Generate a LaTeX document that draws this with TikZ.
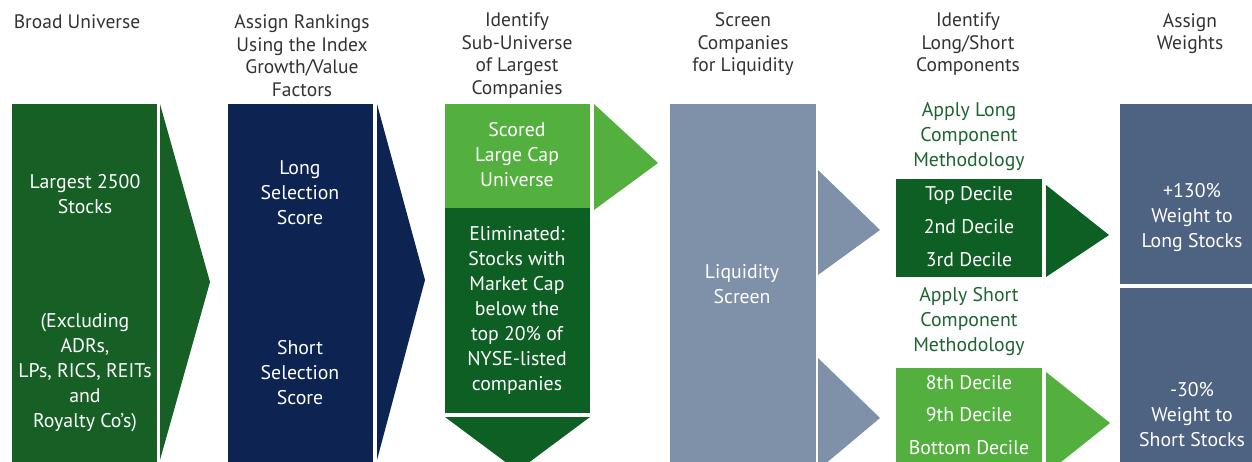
\documentclass[tikz,border=0pt]{standalone}
\usepackage{fontspec}
\setmainfont{PT Sans}
\definecolor{dkgreen}{HTML}{166026}
\definecolor{navy}{HTML}{0D2452}
\definecolor{ltgreen}{HTML}{54B03E}
\definecolor{dkgreenb}{HTML}{0E5F23}
\definecolor{slate}{HTML}{7F91A8}
\definecolor{slatedk}{HTML}{4E6282}
\definecolor{txtgreen}{HTML}{1E6432}
\definecolor{hdrgray}{HTML}{333333}
\begin{document}
\begin{tikzpicture}[x=1pt,y=-1pt,
  hdr/.style={text=hdrgray, align=center, inner sep=0, font=\fontsize{19.5}{22.5}\selectfont},
  boxtxt/.style={text=white, align=center, inner sep=0, font=\fontsize{19.8}{25}\selectfont},
  gtxt/.style={text=txtgreen, align=center, inner sep=0, font=\fontsize{19.8}{25}\selectfont}]
\useasboundingbox (0,0) rectangle (1252,462);
\clip (0,0) rectangle (1252,462);
\fill[white] (0,0) rectangle (1252,462);
% column 1
\fill[dkgreen] (12,104) rectangle (157,470);
\fill[dkgreen] (160,104) -- (210,282) -- (160,460) -- cycle;
% column 2
\fill[navy] (228,104) rectangle (373,470);
\fill[navy] (377,104) -- (425,280) -- (377,460) -- cycle;
% column 3
\fill[ltgreen] (445,104) rectangle (590,208);
\fill[ltgreen] (594,104) -- (658,163) -- (594,210) -- cycle;
\fill[dkgreenb] (445,208) rectangle (590,413);
\fill[dkgreenb] (445,417) -- (590,417) -- (517.5,471) -- cycle;
% column 4
\fill[slate] (670,104) rectangle (816,470);
\fill[slate] (818,170) -- (880,230) -- (818,275) -- cycle;
\fill[slate] (818,358) -- (880,418) -- (818,470) -- cycle;
% column 5
\fill[dkgreenb] (896,179) rectangle (1042,277);
\fill[dkgreenb] (1046,185) -- (1109,235) -- (1046,277) -- cycle;
\fill[ltgreen] (896,368) rectangle (1042,470);
\fill[ltgreen] (1046,372) -- (1110,423) -- (1046,474) -- cycle;
% column 6
\fill[slatedk] (1120,104) rectangle (1252,284);
\fill[slatedk] (1120,288) rectangle (1252,470);

% headers
\node[hdr] (h1) at (77,22) {Broad Universe};
\node[hdr] (h2) at (302,55.5) {Assign Rankings\\Using the Index\\Growth/Value\\Factors};
\node[hdr] (h3) at (517,55.5) {Identify\\Sub-Universe\\of Largest\\Companies};
\node[hdr] (h4) at (743,44.5) {Screen\\Companies\\for Liquidity};
\node[hdr] (h5) at (968,44.5) {Identify\\Long/Short\\Components};
\node[hdr] (h6) at (1190,33.5) {Assign\\Weights};

% box texts
\node[boxtxt] (b1a) at (85,194) {Largest 2500\\Stocks};
\node[boxtxt] (b1b) at (85,372.5) {(Excluding\\ADRs,\\LPs, RICS, REITs\\and\\Royalty Co’s)};
\node[boxtxt] (b2a) at (300,193) {Long\\Selection\\Score};
\node[boxtxt] (b2b) at (300,373) {Short\\Selection\\Score};
\node[boxtxt] (b3a) at (517,155) {Scored\\Large Cap\\Universe};
\node[boxtxt] (b3b) at (517,310.5) {Eliminated:\\Stocks with\\Market Cap\\below the\\top 20\% of\\NYSE-listed\\companies};
\node[boxtxt] (b4) at (742,284.5) {Liquidity\\Screen};
\node[gtxt] (g1) at (969,137) {Apply Long\\Component\\Methodology};
\node[boxtxt] (d1) at (969,195) {Top Decile};
\node[boxtxt] (d2) at (969,227) {2nd Decile};
\node[boxtxt] (d3) at (969,260) {3rd Decile};
\node[gtxt] (g2) at (969,322) {Apply Short\\Component\\Methodology};
\node[boxtxt] (d8) at (969,383) {8th Decile};
\node[boxtxt] (d9) at (969,415) {9th Decile};
\node[boxtxt] (d10) at (969,448) {Bottom Decile};
\node[boxtxt] (w1) at (1192,218) {+130\%\\Weight to\\Long Stocks};
\node[boxtxt] (w2) at (1192,415) {-30\%\\Weight to\\Short Stocks};
\end{tikzpicture}
\end{document}
